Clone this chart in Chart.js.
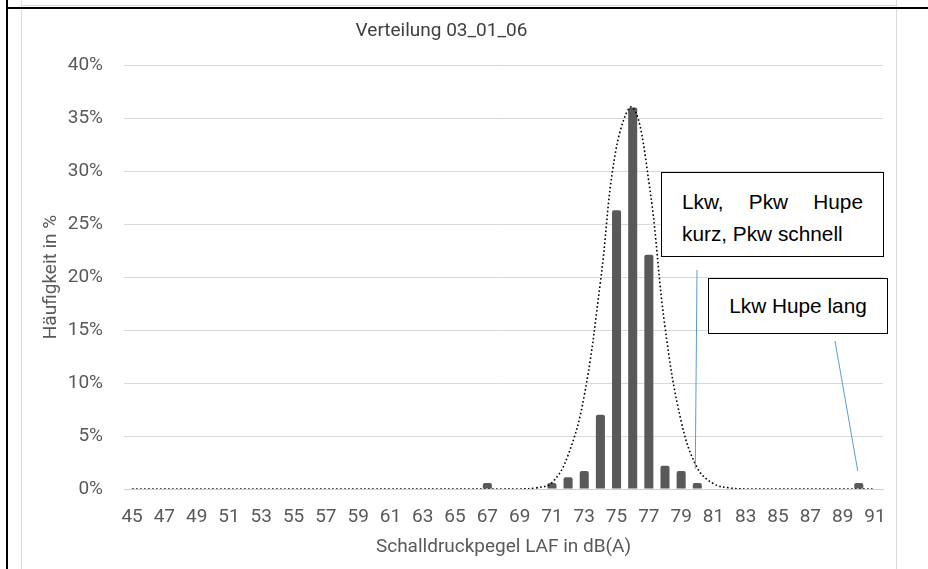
<!DOCTYPE html>
<html>
<head>
<meta charset="utf-8">
<script src="https://cdn.jsdelivr.net/npm/chart.js@4.4.1/dist/chart.umd.min.js"></script>
<style>
  body { margin: 0; background: #fff; }
  #wrap { position: relative; width: 928px; height: 569px; overflow: hidden; }
  #chart { position: absolute; left: 0; top: 0; }
  .frame { position: absolute; }
  .note {
    position: absolute;
    box-sizing: border-box;
    background: #fff;
    border: 1px solid #000;
    font-family: "Liberation Sans", Arial, sans-serif;
    color: #000;
  }
</style>
</head>
<body>
<div id="wrap">
  <canvas id="chart" width="928" height="569"></canvas>

  <!-- page frame -->
  <div class="frame" style="left:22px;top:5px;width:875px;height:1px;background:#d9d9d9"></div>
  <div class="frame" style="left:21px;top:0;width:1px;height:569px;background:#d9d9d9"></div>
  <div class="frame" style="left:896px;top:0;width:1px;height:569px;background:#d9d9d9"></div>
  <div class="frame" style="left:6px;top:7px;width:922px;height:2px;background:#000"></div>
  <div class="frame" style="left:6px;top:0;width:2px;height:569px;background:#000"></div>

  <div class="note" style="left:661px;top:172px;width:223px;height:85px;padding:13px 20px 0 20px;font-size:20.8px;line-height:31.6px;text-align:justify">Lkw, Pkw Hupe kurz, Pkw schnell</div>
  <div class="note" style="left:708px;top:278px;width:180px;height:56px;font-size:20.8px;display:flex;align-items:center;justify-content:center">Lkw Hupe lang</div>
</div>

<script>
const categories = ['45', '46', '47', '48', '49', '50', '51', '52', '53', '54',
  '55', '56', '57', '58', '59', '60', '61', '62', '63', '64',
  '65', '66', '67', '68', '69', '70', '71', '72', '73', '74',
  '75', '76', '77', '78', '79', '80', '81', '82', '83', '84',
  '85', '86', '87', '88', '89', '90', '91'];

// Häufigkeit in % (Balken)
const frequency = [0, 0, 0, 0, 0, 0, 0, 0, 0, 0,
  0, 0, 0, 0, 0, 0, 0, 0, 0, 0,
  0, 0, 0.56, 0, 0, 0, 0.56, 1.1, 1.7, 7.0,
  26.3, 36.0, 22.1, 2.2, 1.7, 0.56, 0, 0, 0, 0,
  0, 0, 0, 0, 0, 0.56, 0];

// gepunktete Verteilungskurve
const curve = [0, 0, 0, 0, 0, 0, 0, 0, 0, 0,
  0, 0, 0, 0, 0, 0, 0, 0, 0, 0,
  0, 0, 0, 0, 0, 0.1, 0.6, 3.2, 8.8, 19.5,
  32.3, 36.0, 29.0, 15.3, 6.4, 2.0, 0.5, 0.1, 0, 0,
  0, 0, 0, 0, 0, 0, 0];

const yTicks = [0, 5, 10, 15, 20, 25, 30, 35, 40];

// leader lines: [category, value] the line points at
const leaders = [
  { from: [697, 270], cat: '80', value: 1.9, dx: -2 },
  { from: [835, 341], cat: '90', value: 1.7, dx: -1 }
];

const textFont = { family: 'Roboto, "Liberation Sans", sans-serif', size: 19 };

const leaderPlugin = {
  id: 'leaders',
  afterDatasetsDraw(chart) {
    const ctx = chart.ctx;
    const x = chart.scales.x;
    const y = chart.scales.y;
    ctx.save();
    ctx.strokeStyle = '#5b9bd5';
    ctx.lineWidth = 1;
    leaders.forEach(l => {
      ctx.beginPath();
      ctx.moveTo(l.from[0], l.from[1]);
      ctx.lineTo(x.getPixelForValue(categories.indexOf(l.cat)) + l.dx, y.getPixelForValue(l.value));
      ctx.stroke();
    });
    ctx.restore();
  }
};

new Chart(document.getElementById('chart'), {
  type: 'bar',
  data: {
    labels: categories,
    datasets: [
      {
        type: 'line',
        data: curve,
        borderColor: '#000',
        borderWidth: 1.6,
        borderDash: [1.6, 2.4],
        pointRadius: 0,
        tension: 0.4,
        order: 0
      },
      {
        data: frequency,
        backgroundColor: '#595959',
        borderRadius: { topLeft: 2, topRight: 2 },
        borderSkipped: 'bottom',
        categoryPercentage: 1,
        barPercentage: 0.56,
        order: 1
      }
    ]
  },
  options: {
    responsive: false,
    animation: false,
    layout: { padding: { left: 0, right: 45, top: 0, bottom: 0 } },
    plugins: {
      legend: { display: false },
      tooltip: { enabled: false },
      title: {
        display: true,
        text: 'Verteilung 03_01_06',
        color: '#404040',
        font: { family: textFont.family, size: 19, weight: 'normal' },
        padding: { top: 19.6, bottom: 22.6 }
      }
    },
    scales: {
      x: {
        grid: { display: false, drawTicks: false },
        border: { color: '#d0d0d0', width: 1 },
        ticks: {
          autoSkip: false,
          maxRotation: 0,
          padding: 17,
          color: '#595959',
          font: textFont,
          callback: function (v, i) { return i % 2 === 0 ? categories[i] : ''; }
        },
        title: {
          display: true,
          text: 'Schalldruckpegel LAF in dB(A)',
          color: '#595959',
          font: textFont,
          padding: { top: 0, bottom: 10.6 }
        },
        afterFit: function (scale) { scale.height = 80; }
      },
      y: {
        min: 0,
        max: 40,
        afterBuildTicks: function (scale) { scale.ticks = yTicks.map(v => ({ value: v })); },
        grid: { color: '#d9d9d9', drawTicks: false },
        border: { display: false },
        ticks: {
          padding: 21,
          color: '#595959',
          font: textFont,
          callback: v => v + '%'
        },
        title: {
          display: true,
          text: 'Häufigkeit in %',
          color: '#595959',
          font: textFont,
          padding: { top: 39.6, bottom: 0 }
        },
        afterFit: function (scale) { scale.width = 124; }
      }
    }
  },
  plugins: [leaderPlugin]
});
</script>
</body>
</html>
